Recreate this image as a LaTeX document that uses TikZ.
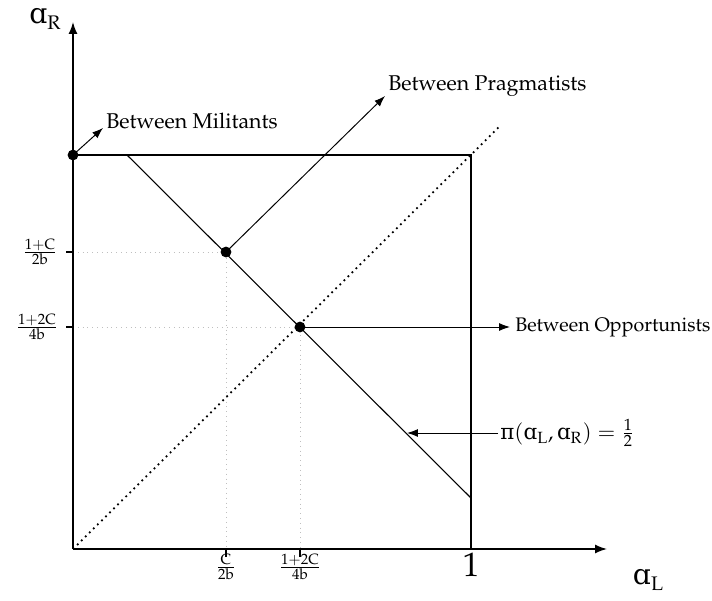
\documentclass[tikz,border=0pt]{standalone}
\usepackage{fontspec}
\newfontfamily\alfont{DejaVu Serif}
\usepackage[T1]{fontenc}
\usepackage{mathpazo}
\usetikzlibrary{arrows.meta}
\newcommand{\myalpha}{\hbox{\alfont ɑ}}
\begin{document}
\begin{tikzpicture}[x=0.51pt,y=-0.51pt,
  axis/.style={line width=0.75pt,-{Latex[length=6pt,width=4.5pt]}},
  frame/.style={line width=0.6pt},
  guide/.style={gray!50,dotted,line width=0.45pt},
  diag/.style={dotted,line width=0.9pt},
  callout/.style={line width=0.5pt,-{Latex[length=5.5pt,width=4pt]}},
  dot/.style={circle,fill=black,inner sep=0pt,minimum size=5.5pt},
  tick/.style={line width=0.6pt},
  lbl/.style={inner sep=1pt},
  ctext/.style={inner sep=1pt,anchor=west,font=\fontsize{10.9pt}{13pt}\selectfont}]
\useasboundingbox (0,0) rectangle (712,601);
% key coordinates
\coordinate (O) at (73,549);
\coordinate (xend) at (607,549);
\coordinate (yend) at (73,22);
\coordinate (TL) at (73,155);
\coordinate (TR) at (471,155);
\coordinate (BR) at (471,549);
\coordinate (Ltop) at (127,155);
\coordinate (Lbot) at (471,498);
\coordinate (Dend) at (499,127);
\coordinate (P) at (226,252);
\coordinate (Q) at (300,327);
\coordinate (Pi) at (407,433);
\coordinate (Py) at (73,252);
\coordinate (Px) at (226,549);
\coordinate (Qy) at (73,327);
\coordinate (Qx) at (300,549);
% guides
\draw[guide] (Py) -- (P) -- (Px);
\draw[guide] (Qy) -- (Q) -- (Qx);
% diagonal
\draw[diag] (O) -- (Dend);
% square
\draw[frame] (TL) -- (TR) -- (BR);
% descending line
\draw[line width=0.55pt] (Ltop) -- (Lbot);
% axes
\draw[axis] (O) -- (xend);
\draw[axis] (O) -- (yend);
% ticks
\draw[tick] (Py) -- ++(-7,0);
\draw[tick] (Qy) -- ++(-7,0);
\draw[tick] (Px) -- ++(0,8);
\draw[tick] (Qx) -- ++(0,8);
% axis labels
\node[lbl] (aR) at (45,19) {\Large\myalpha\raisebox{-0.4ex}{\normalsize R}};
\node[lbl] (aL) at (648,580) {\Large\myalpha\raisebox{-0.4ex}{\normalsize L}};
\node[lbl] (one) at (471,565) {\LARGE 1};
\node[lbl] (ly1) at (40,252) {$\frac{1+\mathrm{C}}{2\mathrm{b}}$};
\node[lbl] (ly2) at (37,327) {$\frac{1+2\mathrm{C}}{4\mathrm{b}}$};
\node[lbl] (lx1) at (226,567) {$\frac{\mathrm{C}}{2\mathrm{b}}$};
\node[lbl] (lx2) at (300,567) {$\frac{1+2\mathrm{C}}{4\mathrm{b}}$};
% dots
\node[dot] (M) at (TL) {};
\node[dot] (Pd) at (P) {};
\node[dot] (Qd) at (Q) {};
% callouts
\node[ctext] (tM) at (104,121) {Between Militants};
\node[ctext] (tP) at (386,86) {Between Pragmatists};
\node[ctext,font=\fontsize{10pt}{12pt}\selectfont] (tQ) at (513,327) {Between Opportunists};
\node[ctext] (tPi) at (498,433) {$\mbox{\alfont π}(\mbox{\alfont ɑ}_{\mathrm{L}},\mbox{\alfont ɑ}_{\mathrm{R}})=\frac{1}{2}$};
\coordinate (mEnd) at (103,128);
\coordinate (pEnd) at (385,96);
\coordinate (qEnd) at (510,327);
\draw[callout] (M.center) -- (mEnd);
\draw[callout] (Pd.center) -- (pEnd);
\draw[callout] (Qd.center) -- (qEnd);
\draw[callout] (tPi.west) -- (Pi);
\end{tikzpicture}
\end{document}
